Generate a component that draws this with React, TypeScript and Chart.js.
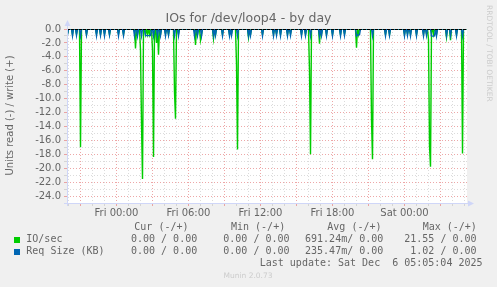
import React, { useEffect, useRef } from 'react';
import { Chart, registerables } from 'chart.js';
Chart.register(...registerables);

// ---- time axis (minutes from Fri 00:00, 5-minute samples) ----
const FIRST_SAMPLE = -245;
const LAST_SAMPLE = 1750;
const SAMPLE_STEP = 5;
const X_MIN = -247.5;
const X_MAX = 1752.5;
const tickMinutes = [0, 360, 720, 1080, 1440];
const tickLabels = ['Fri 00:00', 'Fri 06:00', 'Fri 12:00', 'Fri 18:00', 'Sat 00:00'];

// ---- IO/sec (read, drawn negative) ----
const ioMinutes = [
  -245, -220, -200, -180, -150, -100, -80, -60, -35, 10, 35, 95, 105, 120, 125, 130,
  145, 155, 165, 180, 185, 200, 210, 220, 245, 260, 290, 295, 310,
  395, 405, 420, 425, 485, 495, 530, 565, 575, 600, 605, 660, 670, 730, 785, 800, 820, 855, 870,
  925, 945, 965, 970, 1015, 1025, 1050, 1080, 1120, 1140, 1200, 1210, 1275, 1280,
  1345, 1365, 1440, 1455, 1470, 1500, 1535, 1550, 1560, 1565, 1570, 1585, 1600, 1650, 1670, 1700, 1730,
];
const ioValues = [
  -0.7, -0.8, -0.7, -17.0, -0.8, -0.7, -0.8, -0.7, -0.8, -0.7, -0.8, -2.8, -0.8, -3.0, -13.5, -21.55,
  -0.8, -0.8, -0.8, -3.0, -18.4, -2.0, -3.7, -0.8, -0.7, -0.8, -9.0, -12.9, -0.7,
  -2.3, -0.8, -1.6, -0.8, -1.4, -0.8, -0.8, -0.8, -0.7, -5.0, -17.3, -1.2, -0.8, -0.8, -0.8, -0.7, -0.8, -0.8, -0.7,
  -0.8, -0.8, -6.0, -18.0, -2.1, -0.8, -0.8, -0.8, -0.8, -0.7, -2.7, -0.8, -13.0, -18.7,
  -0.8, -0.8, -0.8, -0.7, -0.8, -0.8, -0.8, -0.7, -1.5, -16.8, -19.8, -0.8, -0.8, -1.2, -1.6, -0.8, -17.9,
];

// ---- Req Size (KB) (read, drawn negative) ----
const reqMinutes = [
  -245, -220, -200, -180, -150, -100, -80, -60, -35, 10, 35, 90, 105, 125,
  145, 150, 155, 160, 165, 170, 185, 205, 220, 245, 260, 290, 310,
  390, 405, 425, 485, 495, 530, 565, 575, 605, 660, 670, 730, 785, 800, 820, 855, 870,
  925, 945, 970, 1015, 1025, 1050, 1080, 1120, 1140, 1200, 1205, 1210, 1215, 1280,
  1345, 1365, 1440, 1455, 1470, 1500, 1535, 1550, 1575, 1580, 1585, 1590, 1600, 1650, 1670, 1700, 1730,
];
const reqValues = [
  -0.9, -1.0, -0.95, -1.0, -0.9, -1.0, -0.95, -1.0, -0.9, -1.0, -0.95, -1.0, -1.0, -1.0,
  -0.95, -0.95, -0.95, -0.95, -0.95, -0.95, -1.0, -1.0, -0.95, -1.0, -0.9, -1.0, -1.0,
  -1.0, -0.95, -1.0, -1.0, -0.95, -1.0, -1.0, -0.95, -1.0, -1.0, -0.95, -1.0, -1.0, -0.95, -1.0, -1.0, -0.95,
  -1.0, -0.95, -1.0, -1.0, -0.95, -1.0, -1.0, -1.0, -0.95, -1.0, -0.85, -0.85, -0.85, -1.0,
  -1.0, -0.95, -1.0, -0.95, -1.0, -1.0, -1.0, -0.95, -1.02, -1.02, -1.02, -1.0, -1.0, -1.0, -0.95, -1.0, -1.0,
];

// ---- legend ----
const legendNames = ['IO/sec', 'Req Size (KB)'];
const legendColors = ['#00CC00', '#0066B3'];
const legendHeaders = ['Cur (-/+)', 'Min (-/+)', 'Avg (-/+)', 'Max (-/+)'];
const curValues = ['0.00 / 0.00', '0.00 / 0.00'];
const minValues = ['0.00 / 0.00', '0.00 / 0.00'];
const avgValues = ['691.24m/ 0.00', '235.47m/ 0.00'];
const maxValues = ['21.55 / 0.00', '1.02 / 0.00'];
const lastUpdate = 'Last update: Sat Dec  6 05:05:04 2025';
const titleText = 'IOs for /dev/loop4 - by day';
const yTitle = 'Units read (-) / write (+)';
const sideText = 'RRDTOOL / TOBI OETIKER';
const footerText = 'Munin 2.0.73';

const FONT_COLOR = '#666666';
const MAJOR_GRID = 'rgba(230, 130, 130, 0.7)';
const MINOR_GRID = 'rgba(190, 190, 190, 0.55)';
const AXIS_COLOR = '#CFD6F8';

function buildSeries(mins: number[], vals: number[]) {
  const lookup = new Map<number, number>();
  mins.forEach((m, i) => lookup.set(m, vals[i]));
  const pts: { x: number; y: number }[] = [];
  for (let m = FIRST_SAMPLE; m <= LAST_SAMPLE; m += SAMPLE_STEP) {
    pts.push({ x: m, y: lookup.has(m) ? (lookup.get(m) as number) : 0 });
  }
  return pts;
}

const decorPlugin = {
  id: 'muninDecor',
  beforeDraw(chart: any) {
    const { ctx, chartArea: a } = chart;
    ctx.save();
    ctx.fillStyle = '#F0F0F0';
    ctx.fillRect(0, 0, chart.width, chart.height);
    ctx.fillStyle = '#FFFFFF';
    ctx.fillRect(a.left, a.top, a.right - a.left, a.bottom - a.top);
    ctx.restore();
  },
  afterDatasetsDraw(chart: any) {
    const { ctx, chartArea: a } = chart;
    const yScale = chart.scales.y;
    ctx.save();
    const y0 = Math.round(yScale.getPixelForValue(0)) + 0.5;
    ctx.strokeStyle = '#000000';
    ctx.lineWidth = 1;
    ctx.setLineDash([3, 1]);
    ctx.beginPath();
    ctx.moveTo(a.left, y0);
    ctx.lineTo(a.right, y0);
    ctx.stroke();
    ctx.setLineDash([]);
    ctx.strokeStyle = AXIS_COLOR;
    ctx.fillStyle = AXIS_COLOR;
    const xl = a.left + 0.5;
    const yb = a.bottom + 0.5;
    ctx.beginPath();
    ctx.moveTo(xl, a.bottom + 3);
    ctx.lineTo(xl, a.top - 4);
    ctx.moveTo(a.left - 3, yb);
    ctx.lineTo(a.right + 3, yb);
    ctx.stroke();
    ctx.beginPath();
    ctx.moveTo(xl, a.top - 9);
    ctx.lineTo(xl - 3, a.top - 3);
    ctx.lineTo(xl + 3, a.top - 3);
    ctx.closePath();
    ctx.fill();
    ctx.beginPath();
    ctx.moveTo(a.right + 7, yb);
    ctx.lineTo(a.right + 1, yb - 3);
    ctx.lineTo(a.right + 1, yb + 3);
    ctx.closePath();
    ctx.fill();
    ctx.restore();
  },
  afterDraw(chart: any) {
    const { ctx } = chart;
    ctx.save();
    ctx.textBaseline = 'middle';
    ctx.fillStyle = FONT_COLOR;
    ctx.font = '12.5px "DejaVu Sans"';
    ctx.textAlign = 'center';
    ctx.fillText(titleText, 248.5, 19);
    ctx.save();
    ctx.translate(10, 115.5);
    ctx.rotate(-Math.PI / 2);
    ctx.font = '10px "DejaVu Sans"';
    ctx.fillText(yTitle, 0, 0);
    ctx.restore();
    ctx.save();
    ctx.translate(488.5, 5);
    ctx.rotate(Math.PI / 2);
    ctx.textAlign = 'left';
    ctx.fillStyle = '#CCCCCC';
    ctx.font = '7.5px "DejaVu Sans"';
    ctx.fillText(sideText, 0, 0);
    ctx.restore();
    ctx.font = '10px "DejaVu Sans Mono"';
    ctx.fillStyle = FONT_COLOR;
    ctx.textAlign = 'left';
    const headerX = [134.3, 231, 327.3, 422.7];
    legendHeaders.forEach((h, i) => ctx.fillText(h, headerX[i], 227.5));
    const rowY = [239.7, 251.7];
    const colEnds = [197.2, 289.5, 383.3, 476.5];
    const cols = [curValues, minValues, avgValues, maxValues];
    legendNames.forEach((name, r) => {
      ctx.fillStyle = legendColors[r];
      ctx.fillRect(14, Math.round(rowY[r]) - 3, 6, 6);
      ctx.fillStyle = FONT_COLOR;
      ctx.textAlign = 'left';
      ctx.fillText(name, 26.3, rowY[r]);
      ctx.textAlign = 'right';
      cols.forEach((c, ci) => ctx.fillText(c[r], colEnds[ci], rowY[r]));
    });
    ctx.textAlign = 'right';
    ctx.fillText(lastUpdate, 482.5, 263.5);
    ctx.textAlign = 'center';
    ctx.fillStyle = '#CCCCCC';
    ctx.font = '7.5px "DejaVu Sans"';
    ctx.fillText(footerText, 248, 276);
    ctx.restore();
  },
};

export default function App() {
  const canvasRef = useRef<HTMLCanvasElement | null>(null);
  useEffect(() => {
    document.body.style.margin = '0';
    const canvas = canvasRef.current;
    if (!canvas) return;
    const hourTicks: number[] = [];
    for (let m = -240; m <= 1740; m += 60) hourTicks.push(m);
    const chart = new Chart(canvas, {
      type: 'line',
      data: {
        datasets: [
          {
            label: legendNames[0],
            data: buildSeries(ioMinutes, ioValues),
            borderColor: legendColors[0],
            borderWidth: 1.4,
            pointRadius: 0,
            fill: false,
            order: 2,
          },
          {
            label: legendNames[1],
            data: buildSeries(reqMinutes, reqValues),
            borderColor: legendColors[1],
            borderWidth: 1.4,
            pointRadius: 0,
            fill: false,
            order: 1,
          },
        ],
      },
      options: {
        animation: false,
        responsive: false,
        maintainAspectRatio: false,
        devicePixelRatio: 1,
        layout: { padding: { top: 29, right: 30, left: 0, bottom: 0 } },
        plugins: { legend: { display: false }, tooltip: { enabled: false }, title: { display: false } },
        elements: { line: { tension: 0 }, point: { radius: 0 } },
        scales: {
          x: {
            type: 'linear',
            min: X_MIN,
            max: X_MAX,
            afterBuildTicks: (s: any) => {
              s.ticks = hourTicks.map((v) => ({ value: v }));
            },
            afterFit: (s: any) => {
              s.height = 84;
            },
            ticks: {
              autoSkip: false,
              maxRotation: 0,
              padding: 1,
              color: FONT_COLOR,
              font: { family: 'DejaVu Sans', size: 10 },
              callback: (v: any) => {
                const i = tickMinutes.indexOf(Number(v));
                return i >= 0 ? tickLabels[i] : '';
              },
            },
            grid: {
              color: (c: any) => (c.tick && c.tick.value % 180 === 0 ? MAJOR_GRID : MINOR_GRID),
              tickColor: (c: any) => (c.tick && c.tick.value % 180 === 0 ? MAJOR_GRID : MINOR_GRID),
              tickLength: 3,
              lineWidth: 1,
            },
            border: { display: false, dash: [1, 2] },
          },
          y: {
            min: -25,
            max: 0,
            afterFit: (s: any) => {
              s.width = 67;
            },
            ticks: {
              stepSize: 1,
              autoSkip: false,
              padding: 3,
              color: FONT_COLOR,
              font: { family: 'DejaVu Sans', size: 10 },
              callback: (v: any) => (Number(v) % 2 === 0 ? Number(v).toFixed(1) : ''),
            },
            grid: {
              color: (c: any) => (c.tick && c.tick.value % 2 === 0 ? MAJOR_GRID : MINOR_GRID),
              tickColor: (c: any) => (c.tick && c.tick.value % 2 === 0 ? MAJOR_GRID : MINOR_GRID),
              tickLength: 3,
              lineWidth: 1,
            },
            border: { display: false, dash: [1, 2] },
          },
        },
      },
      plugins: [decorPlugin],
    } as any);
    return () => chart.destroy();
  }, []);
  return (
    <div style={{ position: 'fixed', left: 0, top: 0, width: 497, height: 287, background: '#F0F0F0' }}>
      <canvas ref={canvasRef} width={497} height={287} style={{ display: 'block', width: 497, height: 287 }} />
    </div>
  );
}
